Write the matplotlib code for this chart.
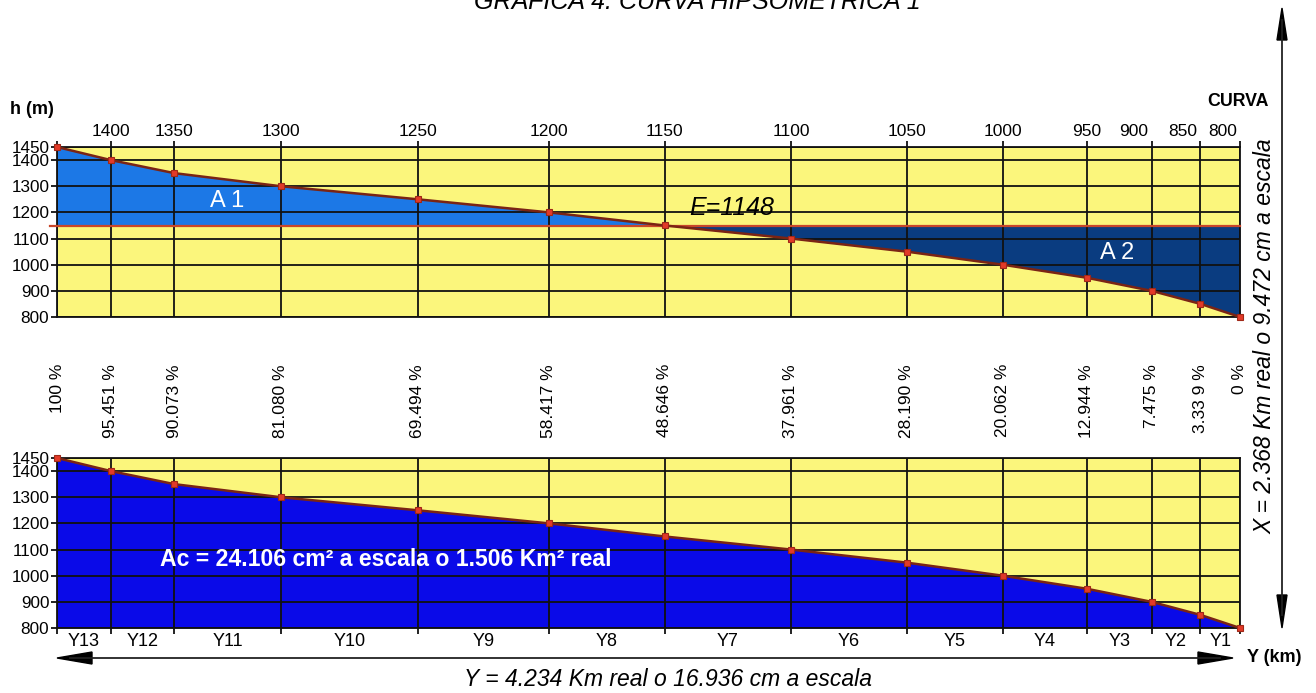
import matplotlib
matplotlib.use("Agg")
import matplotlib.pyplot as plt
import matplotlib.transforms as mtransforms
from matplotlib.patches import Polygon
from matplotlib.lines import Line2D
import numpy as np

# ---------------- data ----------------
elevations = [1450, 1400, 1350, 1300, 1250, 1200, 1150, 1100, 1050, 1000, 950, 900, 850, 800]
percents = [100, 95.451, 90.073, 81.080, 69.494, 58.417, 48.646, 37.961, 28.190, 20.062,
            12.944, 7.475, 3.339, 0]
percent_labels = ["100 %", "95.451 %", "90.073 %", "81.080 %", "69.494 %", "58.417 %",
                  "48.646 %", "37.961 %", "28.190 %", "20.062 %", "12.944 %", "7.475 %",
                  "3.33 9 %", "0 %"]
top_labels = ["", "1400", "1350", "1300", "1250", "1200", "1150", "1100", "1050", "1000",
              "950", "900", "850", "800"]
ytick_values = [800, 900, 1000, 1100, 1200, 1300, 1400, 1450]
segment_labels = ["Y13", "Y12", "Y11", "Y10", "Y9", "Y8", "Y7", "Y6", "Y5", "Y4", "Y3", "Y2", "Y1"]
E_value = 1148

title = "GRÁFICA 4: CURVA HIPSOMÉTRICA 1"
x_text = "X = 2.368 Km real o 9.472 cm a escala"
y_text = "Y = 4.234 Km real o 16.936 cm a escala"
ac_text = "Ac = 24.106 cm² a escala o 1.506 Km² real"

# ---------------- style ----------------
plt.rcParams['font.family'] = ['Liberation Sans', 'DejaVu Sans']
W, H = 1316, 693
YELLOW = '#fbf67c'
A1_BLUE = '#1c78e6'
A2_NAVY = '#0a3c80'
AC_BLUE = '#0a0ae8'
CURVE = '#7a2414'
MARK_F = '#e23a28'
MARK_E = '#a02818'
ELINE = '#c8462a'

fig = plt.figure(figsize=(W / 100, H / 100), dpi=100)
fig.patch.set_facecolor('white')
PX = mtransforms.Affine2D().scale(1 / W, -1 / H).translate(0, 1) + fig.transFigure

def ax_rect(top_px, bottom_px):
    return [57 / W, (H - bottom_px) / H, (1240 - 57) / W, (bottom_px - top_px) / H]

ax_top = fig.add_axes(ax_rect(147, 317))
ax_bot = fig.add_axes(ax_rect(458, 628))

pct = np.array(percents, dtype=float)
elev = np.array(elevations, dtype=float)

for ax in (ax_top, ax_bot):
    ax.set_facecolor(YELLOW)
    ax.set_xlim(100, 0)
    ax.set_ylim(800, 1450)
    ax.set_yticks(ytick_values)
    ax.set_yticklabels([str(v) for v in ytick_values])
    ax.set_xticks(percents)
    ax.set_xticklabels([])
    ax.grid(True, color='#111111', lw=1.3)
    ax.set_axisbelow(False)
    for s in ax.spines.values():
        s.set_color('#111111')
        s.set_linewidth(1.3)
        s.set_zorder(2.6)
    ax.tick_params(axis='y', length=4.5, width=1.3, color='#111111', pad=1,
                   labelsize=12.3, direction='out')
    ax.plot(pct, elev, color=CURVE, lw=1.8, zorder=3)
    ax.plot(pct, elev, 's', ms=5.0, mfc=MARK_F, mec=MARK_E, mew=0.8, zorder=4,
            clip_on=False)

# top panel
ax_top.fill_between(pct, elev, E_value, where=elev >= E_value, interpolate=True,
                    color=A1_BLUE, lw=0, zorder=1)
ax_top.fill_between(pct, elev, E_value, where=elev <= E_value, interpolate=True,
                    color=A2_NAVY, lw=0, zorder=1)
ax_top.plot([100.6, 0], [E_value, E_value], color=ELINE, lw=1.6, zorder=2.8,
            clip_on=False)
ax_top.tick_params(axis='x', top=True, bottom=False, length=4.5, width=1.3,
                   color='#111111', direction='out')

xt = ax_top.get_xaxis_transform()
for p, lab in zip(percents, top_labels):
    if not lab:
        continue
    ha = 'right' if lab in ("900", "850", "800") else 'center'
    dx = 0.25 if ha == 'right' else 0
    ax_top.text(p + dx, 1.045, lab, transform=xt, ha=ha, va='bottom', fontsize=12.5)

for p, lab in zip(percents, percent_labels):
    ax_top.text(p, (317 - 364) / 170, lab, transform=xt, rotation=90, ha='center',
                va='top', fontsize=12.5)

ax_top.text(85.6, 1243, "A 1", color='white', fontsize=17, ha='center', va='center',
            zorder=5)
ax_top.text(10.4, 1043, "A 2", color='white', fontsize=17, ha='center', va='center',
            zorder=5)
ax_top.text(43.0, 1215, f"E={E_value}", color='black', fontsize=18, style='italic',
            ha='center', va='center', zorder=5)

# bottom panel
ax_bot.fill_between(pct, elev, 800, color=AC_BLUE, lw=0, zorder=1)
ax_bot.tick_params(axis='x', bottom=True, top=False, length=4.0, width=1.3,
                   color='#111111', direction='out')
xb = ax_bot.get_xaxis_transform()
for i, lab in enumerate(segment_labels):
    mid = (percents[i] + percents[i + 1]) / 2
    ax_bot.text(mid, (628 - 641) / 170, lab, transform=xb, ha='center', va='center',
                fontsize=13)
ax_bot.text(0.087, 0.4, ac_text, transform=ax_bot.transAxes, color='white',
            fontsize=16.6, fontweight='bold', ha='left', va='center', zorder=5)

# ---------------- figure-level annotations ----------------
fig.text(697 / W, 1 - 9 / H, title, fontsize=18, style='italic', ha='center',
         va='baseline')
fig.text(10 / W, 1 - 110 / H, "h (m)", fontsize=13, fontweight='bold', ha='left',
         va='center')
fig.text(1269 / W, 1 - 101 / H, "CURVA", fontsize=12.8, fontweight='bold', ha='right',
         va='center')
fig.text(1247 / W, 1 - 657 / H, "Y (km)", fontsize=13, fontweight='bold', ha='left',
         va='center')
fig.text(668 / W, 1 - 680 / H, y_text, fontsize=16.5, style='italic', ha='center',
         va='center')
fig.text(1265 / W, 1 - 336 / H, x_text, fontsize=16.5, style='italic', rotation=90,
         ha='center', va='center')

ARROW = '#222222'
fig.add_artist(Line2D([1282, 1282], [20, 615], transform=PX, color=ARROW, lw=1.3))
fig.add_artist(Polygon([(1282, 8), (1277, 40), (1287, 40)], closed=True,
                       transform=PX, color='black'))
fig.add_artist(Polygon([(1282, 628), (1277, 595), (1287, 595)], closed=True,
                       transform=PX, color='black'))
fig.add_artist(Line2D([70, 1220], [658, 658], transform=PX, color=ARROW, lw=1.3))
fig.add_artist(Polygon([(57, 658), (92, 652), (92, 664)], closed=True,
                       transform=PX, color='black'))
fig.add_artist(Polygon([(1233, 658), (1198, 652), (1198, 664)], closed=True,
                       transform=PX, color='black'))

fig.savefig("out.png", dpi=100)
